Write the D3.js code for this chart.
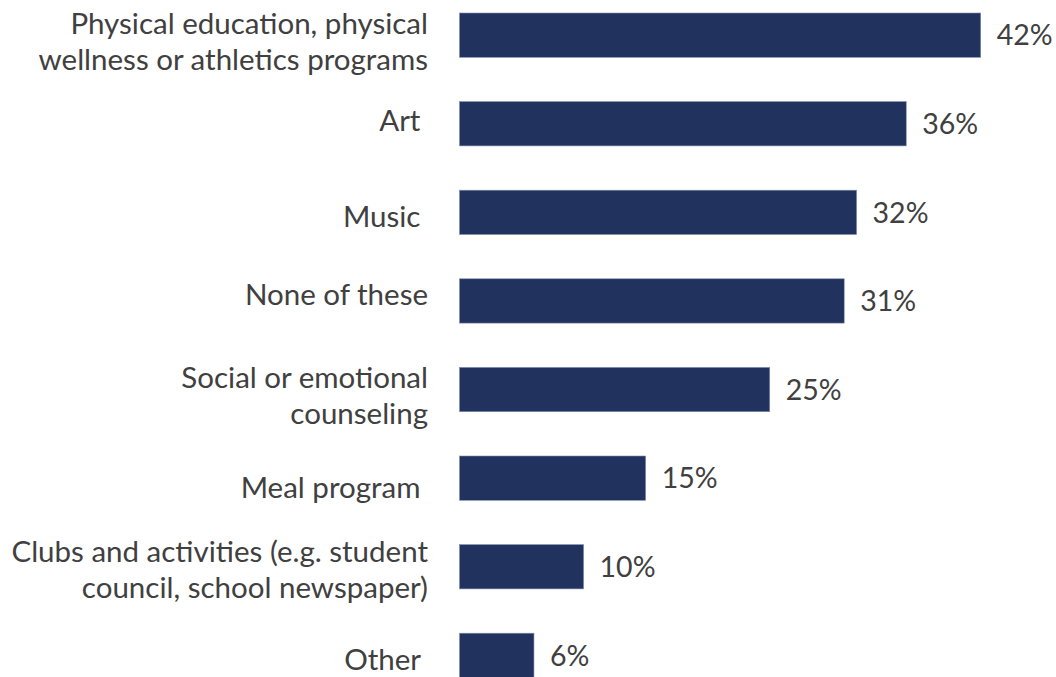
<!DOCTYPE html>
<html>
<head>
<meta charset="utf-8">
<script src="https://cdn.jsdelivr.net/npm/d3@7/dist/d3.min.js"></script>
<style>
  html, body { margin: 0; padding: 0; background: #ffffff; }
  svg { display: block; }
  text { font-family: Lato, "Open Sans", sans-serif; fill: #404040; white-space: pre; }
</style>
</head>
<body>
<svg id="chart" width="1056" height="677"></svg>
<script>
// Survey categories (each entry is the list of lines of its label)
const categories = [
  ["Physical education, physical", "wellness or athletics programs"],
  ["Art "],
  ["Music "],
  ["None of these"],
  ["Social or emotional", "counseling"],
  ["Meal program "],
  ["Clubs and activities (e.g. student", "council, school newspaper)"],
  ["Other "]
];
// Share of respondents, in percent
const values = [42, 36, 32, 31, 25, 15, 10, 6];

// Layout: small vertical nudges (px) for the category labels, which do not
// all sit exactly on their bar's centre line
const labelShift = [0, 0, 7, -3, 0, 12, -3, 7];

const width = 1056, height = 677;
const barLeft = 459.5;
const labelSize = 29.5;
const valueSize = 28.5;
const lineHeight = 36;

const svg = d3.select("#chart");

const x = d3.scaleLinear()
  .domain([0, 42])
  .range([barLeft, 980.7]);

const y = d3.scaleBand()
  .domain(d3.range(categories.length))
  .range([-9.15, 699.65])
  .paddingInner(0.5)
  .paddingOuter(0.25);

const rows = svg.selectAll("g.row")
  .data(values.map((v, i) => ({ v, i, label: categories[i] })))
  .join("g")
  .attr("class", "row");

// bars
rows.append("rect")
  .attr("x", x(0))
  .attr("y", d => y(d.i))
  .attr("width", d => x(d.v) - x(0))
  .attr("height", y.bandwidth())
  .attr("fill", "#21325e")
  .attr("stroke", "#7f8db0")
  .attr("stroke-width", 0.6);

// value labels
rows.append("text")
  .attr("x", d => x(d.v) + 16)
  .attr("y", d => y(d.i) + y.bandwidth() / 2)
  .attr("dy", "0.36em")
  .attr("font-size", valueSize)
  .text(d => d.v + "%");

// category labels, right aligned against the bars;
// wrapped labels sit a little low
const labels = rows.append("text")
  .attr("text-anchor", "end")
  .attr("font-size", labelSize)
  .attr("y", d => y(d.i) + y.bandwidth() / 2 + labelShift[d.i]);

labels.selectAll("tspan")
  .data(d => d.label.map((line, k) => ({ line, k, n: d.label.length })))
  .join("tspan")
  .attr("x", 428)
  .attr("dy", t => t.k === 0
      ? (7.4 - (t.n - 1) * (lineHeight / 2 - 9)) + "px"
      : lineHeight + "px")
  .text(t => t.line);
</script>
</body>
</html>
